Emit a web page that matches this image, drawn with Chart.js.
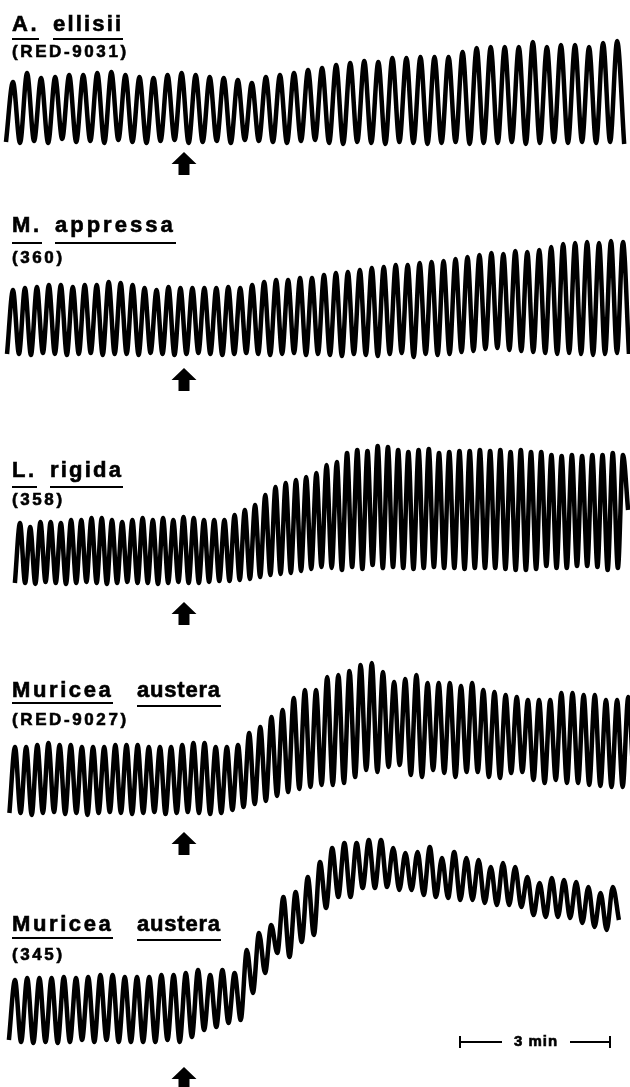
<!DOCTYPE html>
<html>
<head>
<meta charset="utf-8">
<script src="https://cdn.jsdelivr.net/npm/chart.js@4.4.1/dist/chart.umd.min.js"></script>
<style>
  body { margin: 0; background: #fff; }
  #page { position: relative; width: 630px; height: 1087px; overflow: hidden; background: #fff; }
  canvas { position: absolute; left: 0; }
  .t { position: absolute; z-index: 2; font-family: "Liberation Sans", Arial, sans-serif; font-weight: bold; color: #000; white-space: nowrap; -webkit-text-stroke: 0.6px #000; }
  .big { font-size: 22px; line-height: 22px; letter-spacing: 2.6px; }
  .small { font-size: 17px; line-height: 17px; letter-spacing: 2.6px; }
  .u { border-bottom: 2px solid #000; }
  .bar { font-size: 15px; line-height: 15px; letter-spacing: 1px; background: #fff; text-align: center; width: 68px; }
</style>
</head>
<body>
<div id="page">
  <!-- panel labels -->
  <span class="t big u" style="left:12px;top:13px;padding-bottom:3px">A.</span>
  <span class="t big u" style="left:53px;top:13px;padding-bottom:3px;letter-spacing:2.2px">ellisii</span>
  <span class="t small" style="left:12px;top:43px">(RED-9031)</span>

  <span class="t big u" style="left:12px;top:214px;padding-bottom:6px">M.</span>
  <span class="t big u" style="left:55px;top:214px;padding-bottom:6px;letter-spacing:3px">appressa</span>
  <span class="t small" style="left:12px;top:249px">(360)</span>

  <span class="t big u" style="left:12px;top:459px;padding-bottom:5px">L.</span>
  <span class="t big u" style="left:50px;top:459px;padding-bottom:5px;letter-spacing:2.2px">rigida</span>
  <span class="t small" style="left:12px;top:491px">(358)</span>

  <span class="t big u" style="left:12px;top:679px;padding-bottom:1px">Muricea</span>
  <span class="t big u" style="left:137px;top:679px;padding-bottom:4px;letter-spacing:0.8px">austera</span>
  <span class="t small" style="left:12px;top:711px">(RED-9027)</span>

  <span class="t big u" style="left:12px;top:913px;padding-bottom:2px">Muricea</span>
  <span class="t big u" style="left:137px;top:913px;padding-bottom:4px;letter-spacing:0.8px">austera</span>
  <span class="t small" style="left:12px;top:946px">(345)</span>

  <span class="t bar" style="left:502px;top:1033px">3 min</span>

  <canvas id="c1" width="630" height="152" style="top:30px"></canvas>
  <canvas id="c2" width="630" height="165" style="top:230px"></canvas>
  <canvas id="c3" width="630" height="195" style="top:435px"></canvas>
  <canvas id="c4" width="630" height="210" style="top:650px"></canvas>
  <canvas id="c5" width="630" height="262" style="top:825px"></canvas>
</div>

<script>
// time axis in minutes, deflection (arbitrary units, 0 = resting trough)
const treatmentTime = 3.68;   // arrow
const scaleBarStart = 9.2;
const scaleBarMinutes = 3;

// A. ellisii (RED-9031)
const ellisiiStart = 0.26, ellisiiPeriod = 0.281;
const ellisiiPeaks = [59, 68, 63, 64, 66, 66, 68, 69, 66, 64, 63, 66, 68, 66, 64, 63, 61, 58, 64, 66,
  68, 71, 73, 76, 78, 80, 79, 83, 83, 84, 84, 84, 89, 93, 94, 94, 94, 99, 94, 96, 96, 94, 98, 100];
const ellisiiTroughs = [-1, -2, 0, -2, 2, -1, 0, -2, 1, -1, -2, 0, 1, -2, -1, 0, -2, 1, 0, -1,
  -2, 0, 1, -2, -3, -1, -2, -3, -1, -2, -3, -2, -1, -3, -2, -2, -1, -3, -2, -1, -2, -1, -2, -1, -3];

// M. appressa (360)
const appressaStart = 0.26, appressaPeriod = 0.2392;
const appressaPeaks = [64, 66, 67, 69, 69, 67, 69, 69, 72, 71, 69, 66, 64, 67, 66, 66, 66, 66, 67, 66,
  69, 72, 74, 74, 76, 76, 79, 81, 82, 84, 86, 87, 89, 89, 91, 92, 93, 95, 97, 99,
  101, 100, 103, 102, 104, 107, 110, 111, 112, 111, 113, 112];
const appressaTroughs = [0, 0, -1, 1, 0, -1, 0, 1, -1, 0, 0, -1, 1, 0, -1, 0, 1, 0, -1, 0,
  1, 0, -1, 0, 1, -1, 0, -1, -2, 0, -1, -2, 0, 1, -3, 0, -1, 0, 2, 3,
  5, 6, 4, 3, 2, 1, 0, 1, 0, -1, 0, 1, 0];

// L. rigida (358)
const rigidaStart = 0.40, rigidaPeriod = 0.2044;
const rigidaPeaks = [60, 56, 61, 61, 60, 63, 63, 65, 65, 63, 61, 63, 65, 63, 65, 63, 66, 65, 63, 63,
  63, 68, 73, 78, 88, 96, 100, 103, 106, 110, 118, 121, 130, 133, 132, 137, 136, 133, 131, 133,
  134, 130, 131, 132, 132, 133, 132, 133, 131, 133, 131, 131, 128, 127, 128, 127, 128, 128, 130, 128];
const rigidaTroughs = [0, 0, -1, 1, 0, -1, 0, 1, 0, -1, 0, 1, 0, 0, -1, 0, 1, 0, 0, 1,
  2, 2, 3, 4, 6, 8, 9, 10, 12, 14, 16, 15, 13, 16, 14, 18, 15, 16, 15, 14,
  15, 16, 15, 15, 14, 15, 15, 15, 14, 13, 13, 14, 17, 15, 15, 17, 17, 16, 13, 15, 73];

// Muricea austera (RED-9027)
const austeraAStart = 0.30, austeraAPeriod = 0.223;
const austeraAPeaks = [66, 66, 68, 70, 68, 68, 66, 66, 66, 68, 68, 68, 66, 66, 66, 68, 70, 70, 66, 66,
  68, 80, 86, 96, 103, 115, 123, 123, 136, 138, 142, 148, 150, 141, 131, 134, 138, 130, 130, 130,
  127, 130, 123, 121, 118, 116, 113, 113, 113, 120, 120, 118, 118, 113, 113, 116];
const austeraATroughs = [0, 0, -2, 0, 1, -1, 0, -2, 0, 1, 0, -1, 0, 1, -1, 0, 1, 0, -1, 0,
  3, 6, 9, 12, 17, 21, 24, 26, 28, 28, 30, 36, 43, 41, 46, 48, 38, 36, 43, 40,
  36, 41, 41, 36, 35, 40, 41, 33, 30, 33, 30, 30, 28, 27, 26, 26, 25];

// Muricea austera (345)
const austeraBStart = 0.30, austeraBPeriod = 0.244;
const austeraBPeaks = [60, 62, 62, 62, 63, 62, 63, 65, 65, 63, 63, 63, 65, 65, 67, 70, 65, 70, 67,
  90, 107, 115, 143, 148, 163, 178, 192, 197, 197, 200, 200, 192, 187, 188, 193, 182, 188, 182, 180,
  173, 177, 173, 163, 157, 162, 160, 158, 153, 147, 153];
const austeraBTroughs = [0, -2, -3, -2, -3, -2, 0, -2, 0, -2, -2, -2, -2, 0, -2, 3, 10, 13, 17, 20,
  47, 67, 87, 83, 98, 105, 132, 143, 143, 152, 152, 153, 150, 150, 145, 143, 142, 140, 140, 137,
  135, 135, 133, 125, 123, 123, 122, 117, 113, 110, 120];

// troughs[i] comes half a cycle before peaks[i], the last trough closes the record
function tracePoints(start, period, peaks, troughs) {
  const pts = [];
  for (let i = 0; i < troughs.length; i++) {
    pts.push({ x: start + (i - 0.5) * period, y: troughs[i] });
    if (i < peaks.length) pts.push({ x: start + i * period, y: peaks[i] });
  }
  return pts;
}

const marksPlugin = {
  id: 'marks',
  afterDatasetsDraw(chart, args, opts) {
    const ctx = chart.ctx;
    const xs = chart.scales.x, ys = chart.scales.y;
    const x = xs.getPixelForValue(opts.arrowTime);
    const y = ys.getPixelForValue(opts.arrowLevel);
    ctx.save();
    ctx.fillStyle = '#000';
    ctx.beginPath();
    ctx.moveTo(x, y);
    ctx.lineTo(x + 12.5, y + 12);
    ctx.lineTo(x + 5.5, y + 12);
    ctx.lineTo(x + 5.5, y + 23);
    ctx.lineTo(x - 5.5, y + 23);
    ctx.lineTo(x - 5.5, y + 12);
    ctx.lineTo(x - 12.5, y + 12);
    ctx.closePath();
    ctx.fill();
    if (opts.bar) {
      const x1 = xs.getPixelForValue(opts.bar.start);
      const x2 = xs.getPixelForValue(opts.bar.start + opts.bar.minutes);
      const yb = ys.getPixelForValue(opts.bar.level);
      ctx.strokeStyle = '#000';
      ctx.lineWidth = 2;
      ctx.beginPath();
      ctx.moveTo(x1, yb); ctx.lineTo(x2, yb);
      ctx.moveTo(x1, yb - 6); ctx.lineTo(x1, yb + 6);
      ctx.moveTo(x2, yb - 6); ctx.lineTo(x2, yb + 6);
      ctx.stroke();
    }
    ctx.restore();
  }
};

// base = page row of the resting trough, top/height = canvas placement
function makeTrace(id, top, height, base, points, arrowLevel, bar) {
  return new Chart(document.getElementById(id), {
    type: 'line',
    data: {
      datasets: [{
        data: points,
        borderColor: '#000',
        borderWidth: 4.5,
        pointRadius: 0,
        fill: false,
        cubicInterpolationMode: 'monotone'
      }]
    },
    options: {
      responsive: false,
      animation: false,
      devicePixelRatio: 1,
      layout: { padding: 0 },
      scales: {
        x: { type: 'linear', min: 0, max: 12.6, display: false },
        y: { min: base - (top + height), max: base - top, display: false }
      },
      plugins: {
        legend: { display: false },
        tooltip: { enabled: false },
        marks: { arrowTime: treatmentTime, arrowLevel: arrowLevel, bar: bar }
      }
    },
    plugins: [marksPlugin]
  });
}

makeTrace('c1', 30, 152, 141, tracePoints(ellisiiStart, ellisiiPeriod, ellisiiPeaks, ellisiiTroughs), -11);
makeTrace('c2', 230, 165, 354, tracePoints(appressaStart, appressaPeriod, appressaPeaks, appressaTroughs), -14);
makeTrace('c3', 435, 195, 583, tracePoints(rigidaStart, rigidaPeriod, rigidaPeaks, rigidaTroughs), -19);
makeTrace('c4', 650, 210, 813, tracePoints(austeraAStart, austeraAPeriod, austeraAPeaks, austeraATroughs), -19);
makeTrace('c5', 825, 262, 1040, tracePoints(austeraBStart, austeraBPeriod, austeraBPeaks, austeraBTroughs), -27,
  { start: scaleBarStart, minutes: scaleBarMinutes, level: -2 });
</script>
</body>
</html>
